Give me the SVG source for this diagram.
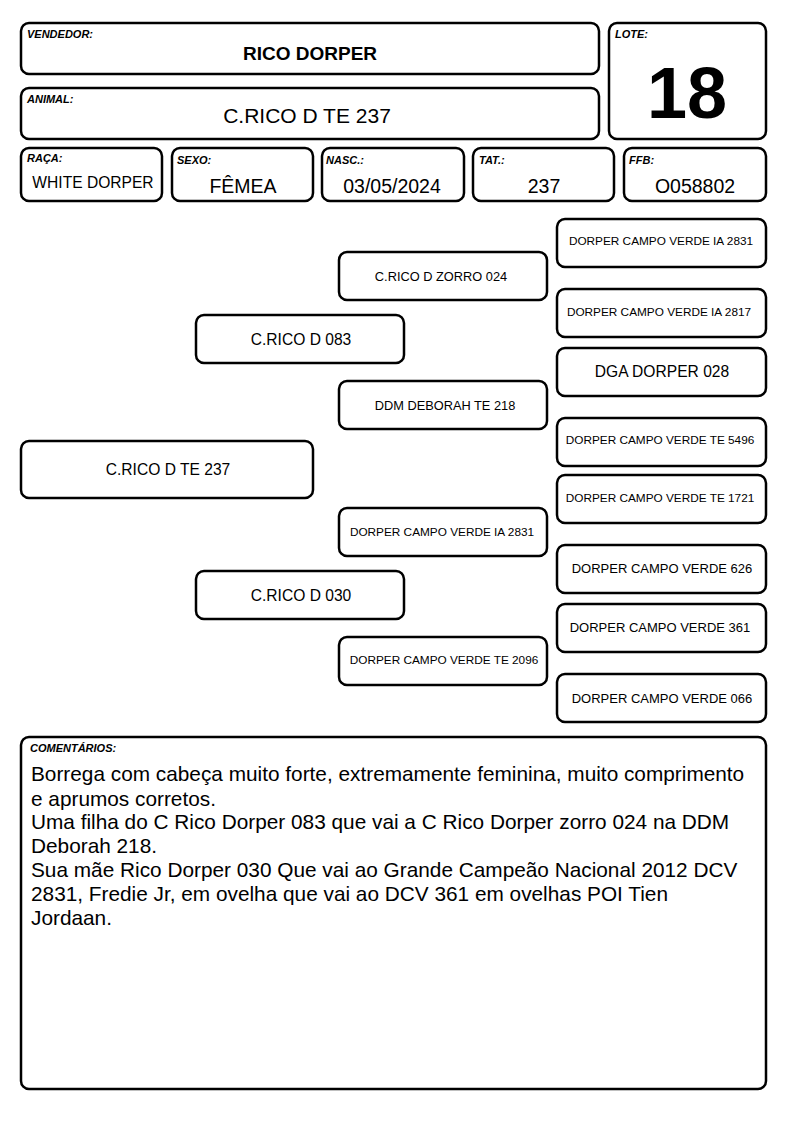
<svg xmlns="http://www.w3.org/2000/svg" width="794" height="1123" viewBox="0 0 794 1123">
<style>
.b{fill:#fff;stroke:#000;stroke-width:2.5}
.lb{font-family:"Liberation Sans",Arial,sans-serif;font-size:11px;font-style:italic;font-weight:bold;fill:#000}
.t{font-family:"Liberation Sans",Arial,sans-serif;fill:#000;text-anchor:middle}
.s{font-size:11.8px}
.s2{font-size:12.8px}
.m{font-size:15.6px}
.v{font-size:19.5px}
.c{font-family:"Liberation Sans",Arial,sans-serif;font-size:20.8px;fill:#000}
</style>
<rect width="794" height="1123" fill="#fff"/>
<g id="vendedor"><rect class="b" x="21" y="23" width="578" height="51" rx="8"/><text class="lb" x="27" y="38">VENDEDOR:</text><text class="t" x="310" y="60" font-size="19" font-weight="bold">RICO DORPER</text></g>
<g id="animal"><rect class="b" x="21" y="88" width="578" height="51" rx="8"/><text class="lb" x="27" y="103">ANIMAL:</text><text class="t" x="307" y="123" font-size="21">C.RICO D TE 237</text></g>
<g id="lote"><rect class="b" x="609" y="23" width="157" height="116" rx="8"/><text class="lb" x="615" y="38">LOTE:</text><text class="t" x="687" y="118" font-size="72" font-weight="bold">18</text></g>
<g id="raca"><rect class="b" x="21" y="148" width="141" height="53" rx="8"/><text class="lb" x="27" y="162">RAÇA:</text><text class="t" x="93" y="188" font-size="15.6">WHITE DORPER</text></g>
<g id="sexo"><rect class="b" x="172" y="148" width="141" height="53" rx="8"/><text class="lb" x="177" y="164">SEXO:</text><text class="t v" x="243" y="193">FÊMEA</text></g>
<g id="nasc"><rect class="b" x="322" y="148" width="142" height="53" rx="8"/><text class="lb" x="326" y="164">NASC.:</text><text class="t v" x="392" y="193">03/05/2024</text></g>
<g id="tat"><rect class="b" x="473" y="148" width="141" height="53" rx="8"/><text class="lb" x="479" y="164">TAT.:</text><text class="t v" x="544" y="193">237</text></g>
<g id="ffb"><rect class="b" x="624" y="148" width="142" height="53" rx="8"/><text class="lb" x="629" y="164">FFB:</text><text class="t v" x="695" y="193">O058802</text></g>
<g id="connectors"></g>
<g id="p0"><rect class="b" x="21" y="441" width="292" height="57" rx="8"/><text class="t m" x="168" y="475">C.RICO D TE 237</text></g>
<g id="p1"><rect class="b" x="196" y="315" width="208" height="48" rx="8"/><text class="t m" x="301" y="345">C.RICO D 083</text></g>
<g id="p2"><rect class="b" x="196" y="571" width="208" height="48" rx="8"/><text class="t m" x="301" y="601">C.RICO D 030</text></g>
<g id="p3"><rect class="b" x="339" y="252" width="208" height="48" rx="8"/><text class="t s2" x="441" y="281">C.RICO D ZORRO 024</text></g>
<g id="p4"><rect class="b" x="339" y="381" width="208" height="48" rx="8"/><text class="t s2" x="445" y="410">DDM DEBORAH TE 218</text></g>
<g id="p5"><rect class="b" x="339" y="508" width="208" height="48" rx="8"/><text class="t s" x="442" y="536">DORPER CAMPO VERDE IA 2831</text></g>
<g id="p6"><rect class="b" x="339" y="637" width="208" height="48" rx="8"/><text class="t s" x="444" y="664">DORPER CAMPO VERDE TE 2096</text></g>
<g id="p7"><rect class="b" x="557" y="219" width="209" height="48" rx="8"/><text class="t s" x="661" y="245">DORPER CAMPO VERDE IA 2831</text></g>
<g id="p8"><rect class="b" x="557" y="289" width="209" height="48" rx="8"/><text class="t s" x="659" y="316">DORPER CAMPO VERDE IA 2817</text></g>
<g id="p9"><rect class="b" x="557" y="348" width="209" height="48" rx="8"/><text class="t m" x="662" y="377">DGA DORPER 028</text></g>
<g id="p10"><rect class="b" x="557" y="418" width="209" height="48" rx="8"/><text class="t s" x="660" y="444">DORPER CAMPO VERDE TE 5496</text></g>
<g id="p11"><rect class="b" x="557" y="475" width="209" height="48" rx="8"/><text class="t s" x="660" y="502">DORPER CAMPO VERDE TE 1721</text></g>
<g id="p12"><rect class="b" x="557" y="545" width="209" height="48" rx="8"/><text class="t" x="662" y="573" font-size="13">DORPER CAMPO VERDE 626</text></g>
<g id="p13"><rect class="b" x="557" y="604" width="209" height="48" rx="8"/><text class="t" x="660" y="632" font-size="13">DORPER CAMPO VERDE 361</text></g>
<g id="p14"><rect class="b" x="557" y="674" width="209" height="48" rx="8"/><text class="t" x="662" y="703" font-size="13">DORPER CAMPO VERDE 066</text></g>
<g id="comentarios"><rect class="b" x="21" y="737" width="745" height="352" rx="8"/><text class="lb" x="30" y="752">COMENTÁRIOS:</text>
<text class="c" x="31" y="781">Borrega com cabeça muito forte, extremamente feminina, muito comprimento</text>
<text class="c" x="31" y="806">e aprumos corretos.</text>
<text class="c" x="31" y="829">Uma filha do C Rico Dorper 083 que vai a C Rico Dorper zorro 024 na DDM</text>
<text class="c" x="31" y="853">Deborah 218.</text>
<text class="c" x="31" y="877">Sua mãe Rico Dorper 030 Que vai ao Grande Campeão Nacional 2012 DCV</text>
<text class="c" x="31" y="901">2831, Fredie Jr, em ovelha que vai ao DCV 361 em ovelhas POI Tien</text>
<text class="c" x="31" y="925">Jordaan.</text>
</g>
</svg>
